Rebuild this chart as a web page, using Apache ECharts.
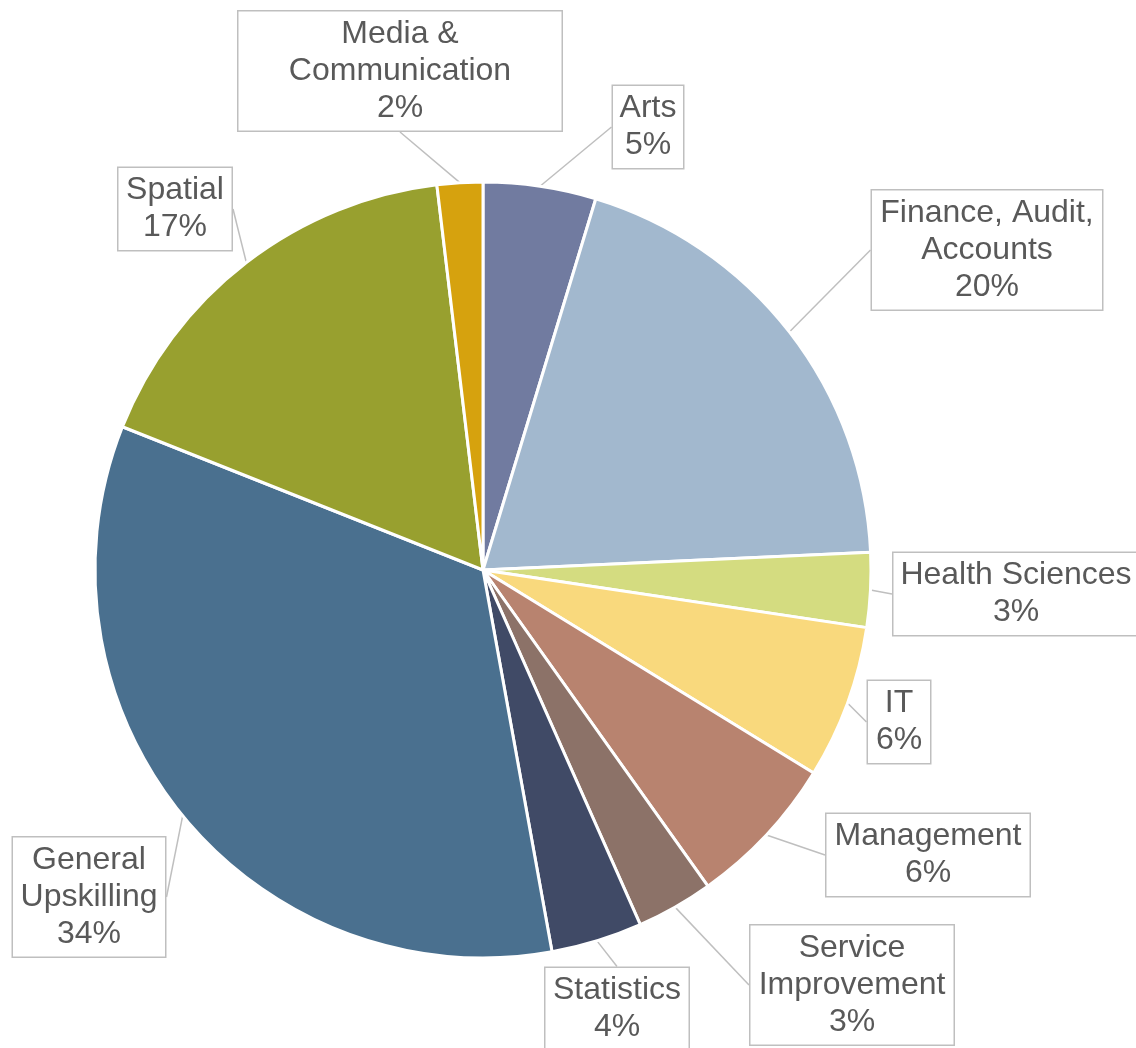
<!DOCTYPE html>
<html>
<head>
<meta charset="utf-8">
<script src="https://cdn.jsdelivr.net/npm/echarts@6/dist/echarts.min.js"></script>
<style>
  html, body { margin: 0; padding: 0; background: #ffffff; }
  #chart { width: 1136px; height: 1048px; }
</style>
</head>
<body>
<div id="chart"></div>
<script>
// slices, clockwise from 12 o'clock
const categories = [
  "Arts",
  "Finance, Audit,\nAccounts",
  "Health Sciences",
  "IT",
  "Management",
  "Service\nImprovement",
  "Statistics",
  "General\nUpskilling",
  "Spatial",
  "Media &\nCommunication",
];
const shares = [4.7, 19.6, 3.1, 6.4, 6.4, 3.2, 3.8, 33.9, 17.1, 1.9];

const sliceColors = [
  "#717ba0", "#a2b8ce", "#d4dc80", "#f9d97d", "#b8836f",
  "#8c7268", "#404a66", "#4a708f", "#98a02f", "#d6a20e",
];

// callout boxes: centre point and outer width
const calloutCenters = [
  [648, 127], [987, 250], [1016, 594], [899, 722], [928, 855],
  [852, 985], [617, 1009], [89, 897], [175, 209], [400, 71],
];
const calloutWidths = [72, 232, 247, 64, 205, 205, 145, 154, 115, 325];

const chart = echarts.init(document.getElementById("chart"));

const option = {
  animation: false,
  series: [
    {
      type: "pie",
      center: [483, 570],
      radius: 388,
      startAngle: 90,
      clockwise: true,
      data: categories.map((name, i) => ({
        name: name,
        value: shares[i],
        itemStyle: { color: sliceColors[i] },
        label: { width: calloutWidths[i] - 2 },
      })),
      itemStyle: {
        borderColor: "#ffffff",
        borderWidth: 3,
      },
      label: {
        show: true,
        position: "outside",
        formatter: (p) => p.name + "\n" + Math.round(p.percent) + "%",
        fontFamily: "Liberation Sans, Arial, sans-serif",
        fontSize: 32,
        lineHeight: 37,
        color: "#595959",
        align: "center",
        backgroundColor: "#ffffff",
        borderColor: "#bfbfbf",
        borderWidth: 1.5,
        padding: [7, 0, 1, 0],
        overflow: "none",
      },
      labelLine: {
        show: true,
        length: 10,
        length2: 0,
        smooth: false,
        lineStyle: { color: "#bfbfbf", width: 1.5 },
      },
      labelLayout: (params) => ({
        x: calloutCenters[params.dataIndex][0],
        y: calloutCenters[params.dataIndex][1],
        align: "center",
        verticalAlign: "middle",
      }),
      emphasis: { disabled: true },
    },
  ],
};

chart.setOption(option);
window.addEventListener("resize", () => chart.resize());
</script>
</body>
</html>
